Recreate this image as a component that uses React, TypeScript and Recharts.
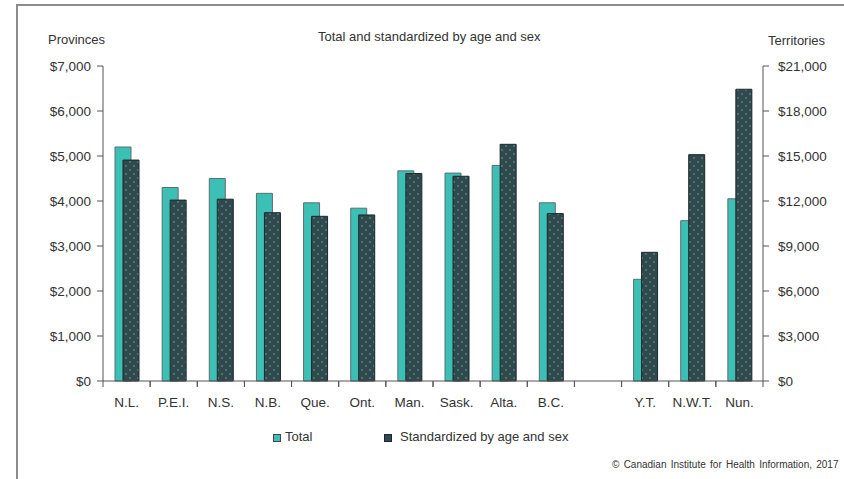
import { BarChart, Bar, XAxis, YAxis } from "recharts";

const categories = ["N.L.", "P.E.I.", "N.S.", "N.B.", "Que.", "Ont.", "Man.", "Sask.", "Alta.", "B.C.", "", "Y.T.", "N.W.T.", "Nun."];
const provinceTotal = [5200, 4300, 4500, 4170, 3960, 3840, 4670, 4620, 4790, 3960];
const provinceStd = [4910, 4020, 4040, 3740, 3660, 3690, 4610, 4550, 5260, 3720];
const territoryTotal = [6780, 10690, 12150];
const territoryStd = [8580, 15090, 19450];
const provinceTicks = [0, 1000, 2000, 3000, 4000, 5000, 6000, 7000];
const territoryTicks = [0, 3000, 6000, 9000, 12000, 15000, 18000, 21000];

const TEAL = "#3cbfb4";
const DARK = "#2e4a4d";
const AXIS = "#555";
const FONT = "'Liberation Sans', Arial, sans-serif";
const TEXT = "#333";

const rows = categories.map((name, i) => {
  const t = i - (categories.length - territoryTotal.length);
  return {
    name,
    provTotal: i < provinceTotal.length ? provinceTotal[i] : null,
    provStd: i < provinceStd.length ? provinceStd[i] : null,
    terrTotal: t >= 0 ? territoryTotal[t] : null,
    terrStd: t >= 0 ? territoryStd[t] : null,
  };
});

const money = (v: number) => `$${v.toLocaleString("en-US")}`;

const XTick = ({ x, y, payload }: any) => {
  const half = payload.offset || 660 / 14 / 2;
  return (
    <g>
      <line x1={x - half} x2={x - half} y1={y} y2={y + 6} stroke={AXIS} />
      <line x1={x + half} x2={x + half} y1={y} y2={y + 6} stroke={AXIS} />
      <text x={x} y={y + 26} textAnchor="middle" fontSize={13.5} fill={TEXT} fontFamily={FONT}>
        {payload.value}
      </text>
    </g>
  );
};

const label = (extra: any) => ({
  position: "absolute" as const,
  fontFamily: FONT,
  fontSize: 13,
  color: TEXT,
  whiteSpace: "nowrap" as const,
  ...extra,
});

export default function App() {
  return (
    <div style={{ position: "absolute", left: 0, top: 0, width: 844, height: 479, overflow: "hidden", background: "#fff" }}>
      <div style={{ position: "absolute", left: 16, top: 4, right: -4, bottom: -4, borderTop: "2px solid #8c8c8c", borderLeft: "2px solid #8c8c8c" }} />
      <BarChart
        width={844}
        height={479}
        data={rows}
        margin={{ top: 66, right: 0, left: 0, bottom: 68 }}
        barGap={-8}
        barSize={16}
        style={{ position: "absolute", left: 0, top: 0 }}
      >
        <defs>
          <pattern id="dots" width="8" height="8" patternUnits="userSpaceOnUse">
            <rect width="8" height="8" fill={DARK} />
            <circle cx="2" cy="2" r="0.7" fill="#97b0b0" />
            <circle cx="6" cy="6" r="0.7" fill="#97b0b0" />
          </pattern>
        </defs>
        <XAxis
          dataKey="name"
          interval={0}
          tickLine={false}
          tickSize={0}
          tickMargin={0}
          stroke={AXIS}
          height={30}
          tick={<XTick />}
        />
        <YAxis
          yAxisId="prov"
          orientation="left"
          width={103}
          domain={[0, 7000]}
          ticks={provinceTicks}
          tickFormatter={money}
          tickSize={6}
          tickMargin={6}
          stroke={AXIS}
          tick={{ fill: TEXT, fontSize: 13.5, fontFamily: FONT }}
        />
        <YAxis
          yAxisId="terr"
          orientation="right"
          width={81}
          domain={[0, 21000]}
          ticks={territoryTicks}
          tickFormatter={money}
          tickSize={6}
          tickMargin={9}
          stroke={AXIS}
          tick={{ fill: TEXT, fontSize: 13.5, fontFamily: FONT }}
        />
        <Bar yAxisId="prov" dataKey="provTotal" stackId="total" fill={TEAL} stroke="#5d6e6d" strokeWidth={1} isAnimationActive={false} />
        <Bar yAxisId="prov" dataKey="provStd" stackId="std" fill="url(#dots)" stroke="#1c2829" strokeWidth={1} isAnimationActive={false} />
        <Bar yAxisId="terr" dataKey="terrTotal" stackId="total" fill={TEAL} stroke="#5d6e6d" strokeWidth={1} isAnimationActive={false} />
        <Bar yAxisId="terr" dataKey="terrStd" stackId="std" fill="url(#dots)" stroke="#1c2829" strokeWidth={1} isAnimationActive={false} />
      </BarChart>
      <div style={label({ left: 48, top: 32 })}>Provinces</div>
      <div style={label({ left: 768, top: 33 })}>Territories</div>
      <div style={label({ left: 318, top: 29 })}>Total and standardized by age and sex</div>
      <div style={{ position: "absolute", left: 273, top: 434, width: 6, height: 6, background: TEAL, border: "1px solid #445" }} />
      <div style={label({ left: 285, top: 429 })}>Total</div>
      <div style={{ position: "absolute", left: 384, top: 434, width: 6, height: 6, background: DARK, border: "1px solid #1c2829" }} />
      <div style={label({ left: 400, top: 429 })}>Standardized by age and sex</div>
      <div style={label({ left: 612, top: 459, fontSize: 10, wordSpacing: 1.5 })}>© Canadian Institute for Health Information, 2017</div>
    </div>
  );
}
